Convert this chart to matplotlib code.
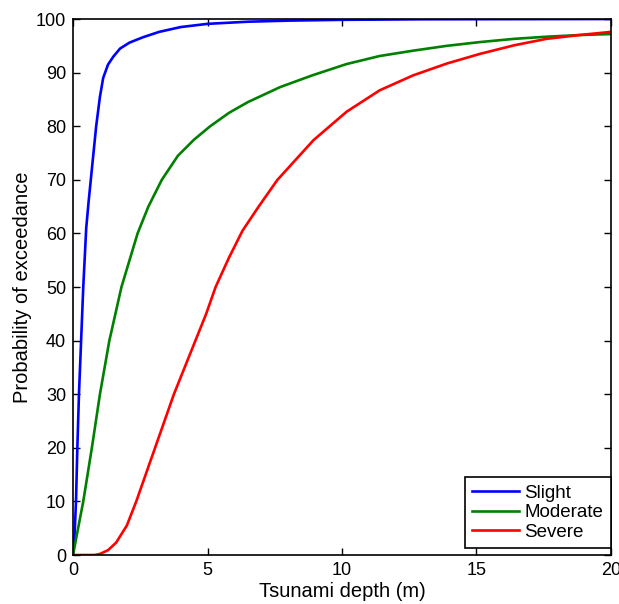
import matplotlib
import matplotlib.pyplot as plt

matplotlib.use("Agg")
plt.rcParams["font.family"] = ["Liberation Sans", "DejaVu Sans"]

# values (depth in m, probability of exceedance in %)
slight_x = [0, 0.05, 0.11, 0.16, 0.22, 0.30, 0.38, 0.49, 0.58, 0.66, 0.76, 0.86, 1.0,
            1.12, 1.3, 1.5, 1.75, 2.1, 2.6, 3.2, 4.0, 5.0, 6.5, 8.0, 10.0, 13.0, 20.0]
slight_y = [0, 3, 10, 20, 30, 40, 50, 61, 66, 70, 75, 80, 85.5,
            89, 91.5, 93, 94.5, 95.6, 96.6, 97.6, 98.5, 99.1, 99.5, 99.7, 99.85, 99.95, 100]

moderate_x = [0, 0.15, 0.38, 0.7, 1.0, 1.35, 1.8, 2.4, 2.8, 3.3, 3.9, 4.5, 5.1, 5.8,
              6.5, 7.7, 8.9, 10.17, 11.4, 12.65, 13.9, 15.13, 16.4, 17.6, 18.8, 20.0]
moderate_y = [0, 4, 10, 20, 30, 40, 50, 60, 65, 70, 74.5, 77.5, 80, 82.5,
              84.5, 87.3, 89.5, 91.6, 93.1, 94.1, 95.0, 95.7, 96.3, 96.7, 97.0, 97.2]

severe_x = [0, 0.8, 1.0, 1.3, 1.6, 2.0, 2.35, 2.7, 3.05, 3.4, 3.75, 4.15, 4.55, 4.95,
            5.3, 5.8, 6.3, 6.9, 7.6, 8.94, 10.17, 11.4, 12.65, 13.9, 15.13, 16.4, 17.6, 18.8, 20.0]
severe_y = [0, 0, 0.2, 0.9, 2.3, 5.5, 10, 15, 20, 25, 30, 35, 40, 45,
            50, 55.5, 60.5, 65, 70, 77.4, 82.7, 86.7, 89.5, 91.7, 93.5, 95.1, 96.3, 97.0, 97.6]

fig = plt.figure(figsize=(6.19, 6.04), dpi=100)
ax = fig.add_axes([0.118, 0.0811, 0.869, 0.8874])

ax.plot(slight_x, slight_y, color="#0000ff", lw=1.9, label="Slight")
ax.plot(moderate_x, moderate_y, color="#008000", lw=1.9, label="Moderate")
ax.plot(severe_x, severe_y, color="#ff0000", lw=1.9, label="Severe")

ax.set_xlim(0, 20)
ax.set_ylim(0, 100)
ax.set_xticks([0, 5, 10, 15, 20])
ax.set_yticks(range(0, 101, 10))
ax.tick_params(direction="in", top=True, right=True, length=5, width=1,
               labelsize=13, pad=5)
for s in ax.spines.values():
    s.set_linewidth(1.2)

ax.set_xlabel("Tsunami depth (m)", fontsize=14.5, labelpad=2)
ax.set_ylabel("Probability of exceedance", fontsize=14.5, labelpad=3)

leg = ax.legend(loc="lower right", bbox_to_anchor=(1.0, 0.013), fontsize=13.5,
                fancybox=False, edgecolor="black", framealpha=1, handlelength=2.5,
                borderaxespad=0, labelspacing=0.12, handletextpad=0.3, borderpad=0.4)
leg.get_frame().set_linewidth(1.2)

fig.savefig("out.png", dpi=100)
